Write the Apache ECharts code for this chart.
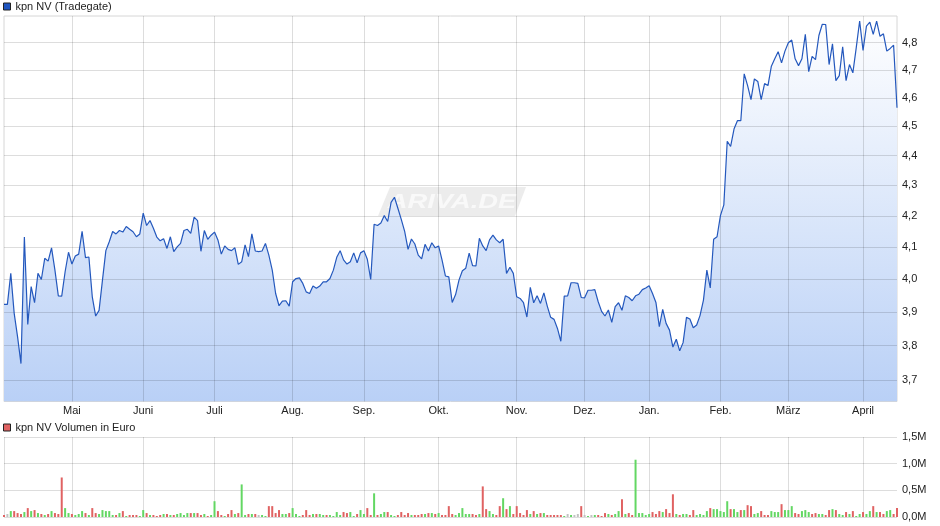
<!DOCTYPE html>
<html><head><meta charset="utf-8">
<script src="https://cdn.jsdelivr.net/npm/echarts@6/dist/echarts.min.js"></script>
<style>html,body{margin:0;padding:0;background:#fff}#c{width:940px;height:526px}</style>
</head><body><div id="c"></div>
<script>
const monthNames = ['Mai','Juni','Juli','Aug.','Sep.','Okt.','Nov.','Dez.','Jan.','Feb.','März','April'];
const monthStartIdx = [20,41,62,85,106,128,151,171,190,211,231,253];
const priceTicks = [3.7,3.8,3.9,4.0,4.1,4.2,4.3,4.4,4.5,4.6,4.7,4.8];
const volTicksK = [0,500,1000,1500];
const prices = [
 3.923,3.923,4.018,3.896,3.826,3.748,4.132,3.863,3.977,3.928,
 4.018,3.999,4.065,4.056,4.098,4.028,3.949,3.948,4.023,4.084,
 4.047,4.072,4.078,4.150,4.067,4.069,3.946,3.888,3.905,3.997,
 4.089,4.117,4.150,4.142,4.153,4.148,4.166,4.157,4.149,4.133,
 4.142,4.209,4.169,4.185,4.160,4.132,4.120,4.127,4.096,4.133,
 4.086,4.101,4.112,4.153,4.157,4.144,4.196,4.185,4.087,4.153,
 4.125,4.138,4.148,4.123,4.078,4.104,4.093,4.089,4.098,4.046,
 4.054,4.107,4.070,4.142,4.088,4.086,4.088,4.112,4.075,4.028,
 3.956,3.919,3.933,3.934,3.918,3.992,4.002,4.004,3.987,3.961,
 3.956,3.979,3.972,3.979,3.992,3.992,4.002,4.028,4.068,4.089,
 4.060,4.047,4.054,4.082,4.051,4.082,4.089,4.062,3.999,4.173,
 4.169,4.177,4.201,4.182,4.244,4.261,4.225,4.189,4.150,4.093,
 4.126,4.110,4.075,4.063,4.109,4.088,4.114,4.098,4.104,4.060,
 4.010,4.007,3.929,3.953,3.997,4.026,4.034,4.081,4.042,4.041,
 4.128,4.104,4.089,4.123,4.138,4.123,4.114,4.125,4.018,4.037,
 4.018,3.946,3.941,3.928,3.885,3.975,3.928,3.949,3.926,3.958,
 3.918,3.884,3.878,3.851,3.813,3.948,3.949,3.989,3.989,3.987,
 3.944,3.943,3.966,3.966,3.968,3.931,3.902,3.888,3.906,3.869,
 3.916,3.928,3.905,3.949,3.944,3.934,3.949,3.954,3.968,3.973,
 3.980,3.956,3.929,3.856,3.908,3.866,3.846,3.796,3.819,3.785,
 3.809,3.884,3.879,3.853,3.861,3.890,3.936,4.028,3.973,4.125,
 4.133,4.201,4.236,4.449,4.431,4.491,4.520,4.520,4.686,4.644,
 4.594,4.668,4.659,4.594,4.651,4.644,4.714,4.741,4.767,4.726,
 4.769,4.800,4.810,4.741,4.716,4.741,4.831,4.694,4.750,4.738,
 4.827,4.869,4.868,4.720,4.796,4.662,4.680,4.785,4.662,4.720,
 4.690,4.782,4.881,4.772,4.862,4.877,4.831,4.881,4.824,4.833,
 4.769,4.779,4.791,4.565];
// volume in thousand euro
const volumesK = [
 37,56,111,111,74,56,93,167,111,130,
 74,56,37,56,111,74,56,741,167,74,
 56,37,56,111,74,37,167,74,56,130,
 111,111,37,37,74,111,19,37,37,37,
 19,130,74,37,37,19,37,56,56,37,
 37,56,74,37,74,74,74,74,37,56,
 19,37,296,111,37,19,56,130,56,74,
 611,37,56,56,56,37,37,19,204,204,
 74,130,56,56,74,167,56,19,37,130,
 37,56,56,56,37,37,37,19,93,37,
 93,74,93,19,56,130,56,167,37,444,
 37,56,93,93,37,19,37,93,37,74,
 37,37,37,56,56,74,74,56,74,37,
 37,204,56,37,74,167,56,56,56,37,
 56,574,148,111,56,37,204,352,148,204,
 56,204,74,37,130,56,111,56,74,74,
 37,37,37,37,37,19,56,37,37,56,
 204,37,19,37,37,37,19,74,56,37,
 56,111,333,56,74,37,1074,74,74,37,
 56,93,56,111,93,148,74,426,56,37,
 56,56,37,130,37,56,37,111,167,148,
 148,111,93,296,148,148,93,130,130,222,
 204,56,74,111,37,37,111,93,93,241,
 130,130,204,74,56,111,130,93,56,74,
 56,56,37,130,148,130,56,37,93,56,
 111,19,56,93,56,111,204,93,93,56,
 111,130,56,167];
// 1 = up (green), -1 = down (red), 0 = unchanged (grey)
const volDir = [
 -1,0,1,-1,-1,-1,1,-1,1,-1,
 1,-1,1,-1,1,-1,-1,-1,1,1,
 -1,1,1,1,-1,1,-1,-1,1,1,
 1,1,1,-1,1,-1,1,-1,-1,-1,
 1,1,-1,1,-1,-1,-1,1,-1,1,
 -1,1,1,1,1,-1,1,-1,-1,1,
 -1,1,1,-1,-1,1,-1,-1,1,-1,
 1,1,-1,1,-1,0,1,1,-1,-1,
 -1,-1,1,1,-1,1,1,1,-1,-1,
 -1,1,-1,1,1,-1,1,1,1,1,
 -1,-1,1,1,-1,1,1,-1,-1,1,
 -1,1,1,-1,1,1,-1,-1,-1,-1,
 1,-1,-1,-1,1,-1,1,-1,1,-1,
 -1,-1,-1,1,1,1,1,1,-1,-1,
 1,-1,-1,1,1,-1,-1,1,-1,1,
 -1,-1,-1,-1,-1,1,-1,1,-1,1,
 -1,-1,-1,-1,-1,1,0,1,0,0,
 -1,0,1,0,1,-1,-1,-1,1,-1,
 1,1,-1,1,-1,-1,1,1,1,1,
 1,-1,-1,-1,1,-1,-1,-1,1,-1,
 1,1,-1,-1,1,1,1,1,-1,1,
 1,1,1,1,-1,1,1,-1,1,-1,
 -1,1,1,-1,-1,-1,1,1,1,-1,
 1,1,1,-1,-1,1,1,1,-1,-1,
 1,1,-1,-1,1,-1,1,1,-1,1,
 -1,1,1,-1,1,1,-1,1,-1,-1,
 1,1,-1,-1];
const days = prices.map((_, i) => String(i));

const FONT = '"Liberation Sans", Arial, sans-serif';
const TXT = '#222';
const GRIDC = 'rgba(0,0,0,0.135)';
const dirColor = d => d > 0 ? '#63d763' : (d < 0 ? '#e06262' : '#c2c2c2');
const isMonth = i => monthStartIdx.indexOf(i) >= 0;

const chart = echarts.init(document.getElementById('c'), null, {renderer: 'canvas'});
const areaGrad = new echarts.graphic.LinearGradient(0, 16, 0, 401.5, [
  {offset: 0, color: '#ffffff'}, {offset: 1, color: '#b9d0f6'}], true);

chart.setOption({
  animation: false,
  backgroundColor: '#fff',
  textStyle: {fontFamily: FONT},
  graphic: [
    {type: 'polygon', z: 0, silent: true,
     shape: {points: [[390, 187], [526, 187], [515, 216], [378, 216]]},
     style: {fill: '#ececec'}},
    {type: 'text', z: 0, silent: true, x: 452, y: 202, scaleX: 1.3,
     style: {text: 'ARIVA.DE', font: 'italic bold 21px ' + FONT, fill: '#f9f9f9',
             align: 'center', verticalAlign: 'middle'}}
  ],
  legend: [
    {left: 3, top: 1, padding: 0, icon: 'rect', itemWidth: 7, itemHeight: 7,
     selectedMode: false,
     textStyle: {fontSize: 11, color: TXT, fontFamily: FONT},
     data: [{name: 'kpn NV (Tradegate)', itemStyle: {color: '#1f55c0', borderColor: '#222', borderWidth: 1}}]},
    {left: 3, top: 422, padding: 0, icon: 'rect', itemWidth: 7, itemHeight: 7,
     selectedMode: false,
     textStyle: {fontSize: 11, color: TXT, fontFamily: FONT},
     data: [{name: 'kpn NV Volumen in Euro', itemStyle: {color: '#e06262', borderColor: '#222', borderWidth: 1}}]}
  ],
  grid: [
    {left: 4, right: 43, top: 16, height: 385.5, show: true, borderColor: '#d6d6d6', borderWidth: 1, backgroundColor: 'transparent'},
    {left: 4, right: 43, top: 437, height: 80}
  ],
  xAxis: [
    {type: 'category', gridIndex: 0, data: days, boundaryGap: false, z: 3,
     axisLine: {show: false}, axisTick: {show: false},
     axisLabel: {interval: (i) => isMonth(i), margin: 4,
       formatter: (v, i) => { const k = monthStartIdx.indexOf(i); return k >= 0 ? monthNames[k] : ''; },
       color: TXT, fontSize: 11, fontFamily: FONT},
     splitLine: {show: true, interval: (i) => isMonth(i), lineStyle: {color: GRIDC, width: 1}}},
    {type: 'category', gridIndex: 1, data: days, boundaryGap: false, z: 3,
     axisLine: {show: false}, axisTick: {show: false}, axisLabel: {show: false},
     splitLine: {show: true, interval: (i) => i === 0 || isMonth(i), lineStyle: {color: GRIDC, width: 1}}}
  ],
  yAxis: [
    {type: 'log', gridIndex: 0, position: 'right', min: 3.64, max: 4.9, z: 3,
     axisLine: {show: false},
     axisTick: {show: false, customValues: priceTicks},
     axisLabel: {customValues: priceTicks, margin: 5, color: TXT, fontSize: 11, fontFamily: FONT,
       formatter: v => Number(v).toFixed(1).replace('.', ',')},
     splitLine: {show: true, lineStyle: {color: GRIDC, width: 1}}},
    {type: 'value', gridIndex: 1, position: 'right', min: 0, max: 1500, interval: 500, z: 3,
     axisLine: {show: false}, axisTick: {show: false},
     axisLabel: {margin: 5, color: TXT, fontSize: 11, fontFamily: FONT,
       formatter: v => (v / 1000).toFixed(1).replace('.', ',') + 'M'},
     splitLine: {show: true, lineStyle: {color: GRIDC, width: 1}}}
  ],
  series: [
    {type: 'line', name: 'area', xAxisIndex: 0, yAxisIndex: 0, data: prices, z: 1, silent: true,
     showSymbol: false, symbol: 'none', lineStyle: {width: 0, opacity: 0},
     areaStyle: {color: areaGrad, opacity: 1, origin: 'start'}},
    {type: 'line', name: 'kpn NV (Tradegate)', xAxisIndex: 0, yAxisIndex: 0, data: prices, z: 5,
     showSymbol: false, symbol: 'none', color: '#1f55c0',
     lineStyle: {width: 1.2, color: '#2458bd'}},
    {type: 'bar', name: 'kpn NV Volumen in Euro', xAxisIndex: 1, yAxisIndex: 1, z: 5,
     barWidth: 2, color: '#e06262',
     data: volumesK.map((v, i) => ({value: v, itemStyle: {color: dirColor(volDir[i])}}))}
  ]
});
</script></body></html>
